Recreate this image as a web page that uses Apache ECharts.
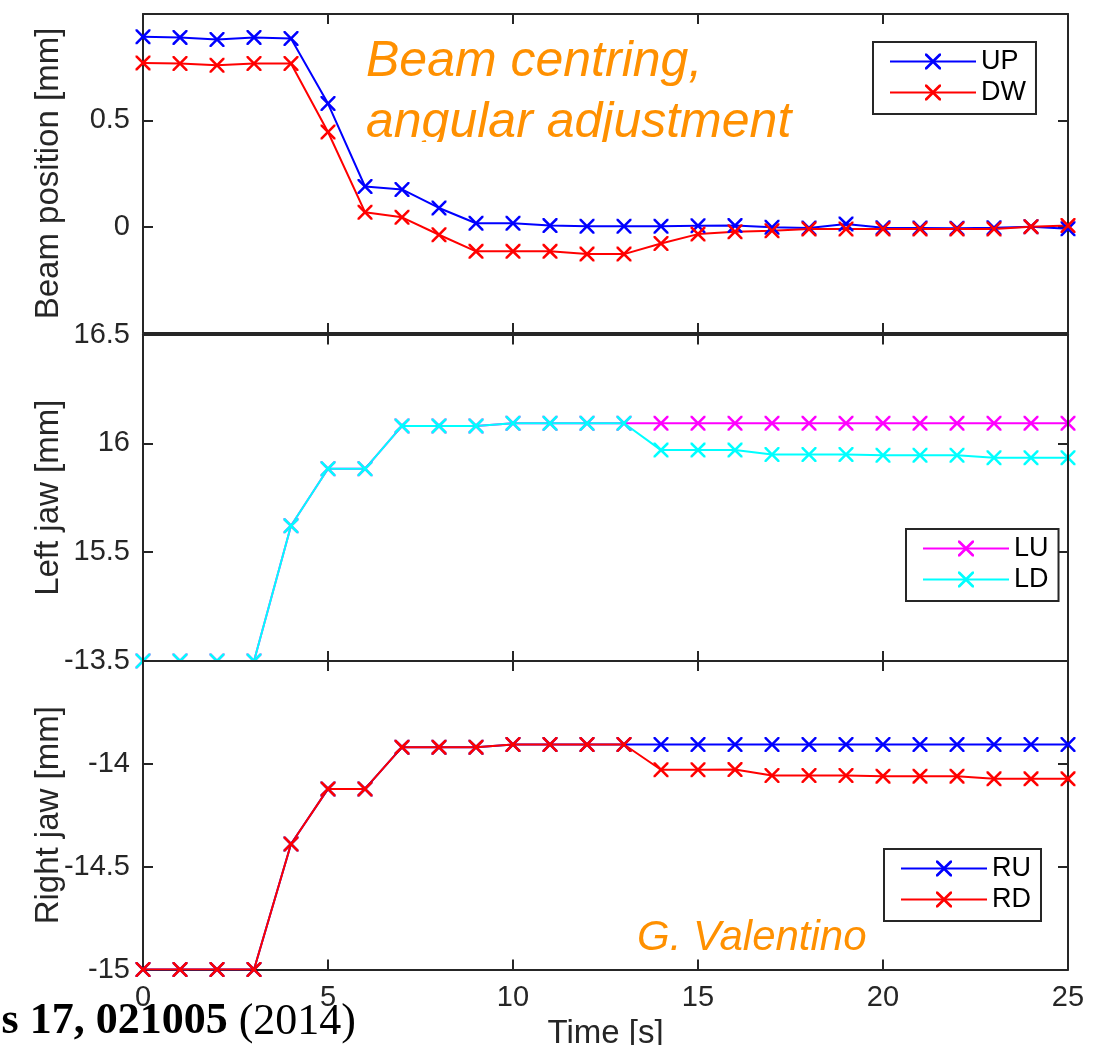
<!DOCTYPE html>
<html>
<head>
<meta charset="utf-8">
<script src="https://cdn.jsdelivr.net/npm/echarts@6/dist/echarts.min.js"></script>
<style>
html,body{margin:0;padding:0;background:#fff;}
#chart{width:1093px;height:1045px;}
</style>
</head>
<body>
<div id="chart"></div>
<script>
// ---------- data ----------
const time = [0,1,2,3,4,5,6,7,8,9,10,11,12,13,14,15,16,17,18,19,20,21,22,23,24,25];
const timeTicks = [0,5,10,15,20,25];

const beamTicks = [-0.5,0,0.5,1];
const UP = [0.893,0.890,0.880,0.890,0.885,0.579,0.189,0.175,0.088,0.016,0.016,0.005,0.002,0.002,0.002,0.004,0.005,-0.003,-0.006,0.013,-0.005,-0.006,-0.007,-0.005,0.000,-0.010];
const DW = [0.770,0.767,0.759,0.767,0.767,0.445,0.068,0.044,-0.038,-0.116,-0.116,-0.116,-0.129,-0.129,-0.079,-0.035,-0.024,-0.019,-0.011,-0.011,-0.011,-0.011,-0.011,-0.011,0.000,0.005];

const leftTicks = [15,15.5,16,16.5];
const LU = [15.0,15.0,15.0,15.0,15.621,15.883,15.883,16.080,16.080,16.080,16.092,16.092,16.092,16.092,16.092,16.092,16.092,16.092,16.092,16.092,16.092,16.092,16.092,16.092,16.092,16.092];
const LD = [15.0,15.0,15.0,15.0,15.621,15.883,15.883,16.080,16.080,16.080,16.092,16.092,16.092,16.092,15.969,15.969,15.969,15.949,15.949,15.949,15.945,15.945,15.945,15.934,15.934,15.934];

const rightTicks = [-15,-14.5,-14,-13.5];
const RU = [-15.0,-15.0,-15.0,-15.0,-14.390,-14.122,-14.122,-13.919,-13.919,-13.919,-13.906,-13.906,-13.906,-13.906,-13.906,-13.906,-13.906,-13.906,-13.906,-13.906,-13.906,-13.906,-13.906,-13.906,-13.906,-13.906];
const RD = [-15.0,-15.0,-15.0,-15.0,-14.390,-14.122,-14.122,-13.919,-13.919,-13.919,-13.906,-13.906,-13.906,-13.906,-14.029,-14.029,-14.028,-14.057,-14.057,-14.057,-14.060,-14.060,-14.060,-14.073,-14.073,-14.073];

const panelNames = ['Beam position [mm]','Left jaw [mm]','Right jaw [mm]'];
const xName = 'Time [s]';

// ---------- styling ----------
const FONT = '"Liberation Sans", Arial, Helvetica, sans-serif';
const SERIF = '"Liberation Serif", "Times New Roman", serif';
const AX = '#262626';
const ORANGE = '#ff9000';
const XMARK = 'path://M0,0L2.4,0L10,7.6L17.6,0L20,0L20,2.4L12.4,10L20,17.6L20,20L17.6,20L10,12.4L2.4,20L0,20L0,17.6L7.6,10L0,2.4Z';

const grids = [
  {left:143, top:14, width:925, height:319, outerBoundsMode:'none', containLabel:false},
  {left:143, top:334.5, width:925, height:326.5, outerBoundsMode:'none', containLabel:false},
  {left:143, top:661, width:925, height:308.5, outerBoundsMode:'none', containLabel:false,
   show:true, backgroundColor:'#fff', borderWidth:0, z:3}
];
const yTickSets = [beamTicks, leftTicks, rightTicks];

const xAxes = [], yAxes = [];
for (let i = 0; i < 3; i++) {
  const isLast = i === 2;
  ['bottom','top'].forEach(pos => {
    xAxes.push({
      type:'value', gridIndex:i, position:pos, z:3.5,
      min:timeTicks[0], max:timeTicks[timeTicks.length-1], interval:timeTicks[1]-timeTicks[0],
      axisLine:{show:true, onZero:false, lineStyle:{color:AX,width:2}},
      axisTick:{show:true, inside:true, length:10, lineStyle:{color:AX,width:2}},
      splitLine:{show:false},
      axisLabel:{show: isLast && pos==='bottom', margin:14, color:AX, fontSize:29, fontFamily:FONT},
      name: (isLast && pos==='bottom') ? xName : '',
      nameLocation:'middle', nameGap:48, nameMoveOverlap:false,
      nameTextStyle:{color:AX, fontSize:33, fontFamily:FONT}
    });
  });
  const t = yTickSets[i];
  ['left','right'].forEach(pos => {
    yAxes.push({
      type:'value', gridIndex:i, position:pos, z:3.5,
      min:t[0], max:t[t.length-1], interval:t[1]-t[0],
      axisLine:{show:true, onZero:false, lineStyle:{color:AX,width:2}},
      axisTick:{show:true, inside:true, length:10, lineStyle:{color:AX,width:2}},
      splitLine:{show:false},
      axisLabel:{show: pos==='left', margin:13, color:AX, fontSize:29, fontFamily:FONT,
        showMinLabel: i===2, showMaxLabel: i!==0},
      name: pos==='left' ? panelNames[i] : '',
      nameLocation:'middle', nameGap:78, nameRotate:90, nameMoveOverlap:false,
      nameTextStyle:{color:AX, fontSize:33, fontFamily:FONT}
    });
  });
}

function mk(name, vals, color, panel, z) {
  return {
    type:'line', name:name, xAxisIndex:panel*2, yAxisIndex:panel*2, z:z,
    data: time.map((t,k)=>[t, vals[k]]),
    symbol:XMARK, symbolSize:15, showSymbol:true,
    lineStyle:{color:color, width:2}, itemStyle:{color:color},
    emphasis:{disabled:true}, silent:true, animation:false
  };
}
const series = [
  mk('UP', UP, '#0000ff', 0, 4),
  mk('DW', DW, '#ff0000', 0, 4),
  mk('LU', LU, '#ff00ff', 1, 2),
  mk('LD', LD, '#00ffff', 1, 2),
  mk('RU', RU, '#0000ff', 2, 4),
  mk('RD', RD, '#ff0000', 2, 4)
];

function legend(names, left, top) {
  return {
    data:names, orient:'vertical', left:left, top:top, z:6,
    itemWidth:86, itemHeight:20, itemGap:4,
    padding:[6,10,8,16],
    borderColor:AX, borderWidth:2, backgroundColor:'#fff',
    selectedMode:false,
    textStyle:{color:'#000', fontSize:27, fontFamily:FONT}
  };
}

const chart = echarts.init(document.getElementById('chart'), null, {renderer:'canvas'});
chart.setOption({
  animation:false,
  backgroundColor:'#fff',
  grid:grids,
  xAxis:xAxes,
  yAxis:yAxes,
  series:series,
  legend:[
    legend(['UP','DW'], 873, 42),
    legend(['LU','LD'], 906, 529),
    legend(['RU','RD'], 884, 849)
  ],
  graphic:[
    {type:'text', x:366, y:61.7, z:10, silent:true,
     style:{text:'Beam centring,', fill:ORANGE, font:'italic 50px ' + FONT, verticalAlign:'middle'}},
    {type:'text', x:366, y:122.7, z:10, silent:true,
     style:{text:'angular adjustment', fill:ORANGE, font:'italic 50px ' + FONT, verticalAlign:'middle'}},
    {type:'rect', z:11, silent:true, shape:{x:355, y:142, width:470, height:16}, style:{fill:'#fff'}},
    {type:'text', x:637, y:938.4, z:10, silent:true,
     style:{text:'G. Valentino', fill:ORANGE, font:'italic 42px ' + FONT, verticalAlign:'middle'}},
    {type:'text', x:356, y:1022, z:10, silent:true,
     style:{text:'{b|s 17, 021005}{r|\u00a0(2014)}', align:'right', verticalAlign:'middle',
       rich:{
         b:{fontFamily:SERIF, fontWeight:'bold', fontSize:44, fill:'#000'},
         r:{fontFamily:SERIF, fontSize:44, fill:'#000'}
       }}}
  ]
});
</script>
</body>
</html>
